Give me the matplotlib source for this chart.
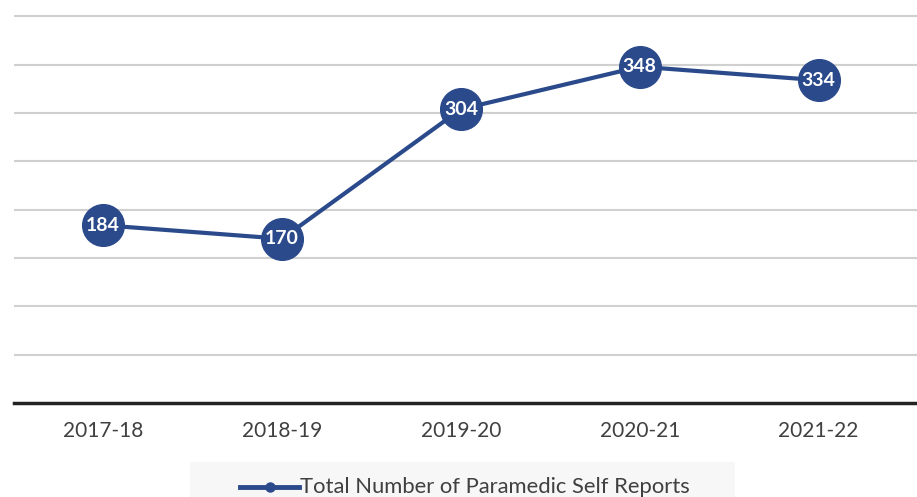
import matplotlib.pyplot as plt
from matplotlib.patches import Rectangle
from matplotlib.lines import Line2D

plt.rcParams['font.family'] = ['Lato', 'DejaVu Sans']

years = ['2017-18', '2018-19', '2019-20', '2020-21', '2021-22']
reports = [184, 170, 304, 348, 334]
grid_levels = [50, 100, 150, 200, 250, 300, 350, 400]

blue = '#2b4a8b'

fig = plt.figure(figsize=(9.17, 4.97), dpi=100)
ax = fig.add_axes([0.015, 0.189, 0.985, 0.811])

x = list(range(len(years)))
ax.plot(x, reports, color=blue, linewidth=3, marker='o', markersize=30,
        markerfacecolor=blue, markeredgecolor=blue, zorder=3)
for xi, v in zip(x, reports):
    ax.text(xi, v, str(v), color='white', fontsize=14, fontweight='bold',
            ha='center', va='center', zorder=4)

for g in grid_levels:
    ax.axhline(g, color='#d0d0d0', linewidth=1.5, zorder=1)

ax.set_xlim(-0.5, len(years) - 0.45)
ax.set_ylim(0, 417)
ax.set_xticks(x)
ax.set_xticklabels(years, fontsize=15, color='#404040')
ax.set_yticks([])
ax.tick_params(axis='x', length=0, pad=13)
for s in ['top', 'right', 'left']:
    ax.spines[s].set_visible(False)
ax.spines['bottom'].set_linewidth(2.5)
ax.spines['bottom'].set_color('#222222')

# legend
fig.patches.append(Rectangle((0.207, 0.0), 0.595, 0.07, transform=fig.transFigure,
                             facecolor='#f7f7f7', edgecolor='none'))
fig.lines.append(Line2D([0.262, 0.326], [0.02, 0.02], transform=fig.transFigure,
                        color=blue, linewidth=3.5))
fig.lines.append(Line2D([0.294], [0.02], transform=fig.transFigure,
                        color=blue, marker='o', markersize=6.5, linestyle='none'))
fig.text(0.327, 0.02, 'Total Number of Paramedic Self Reports', fontsize=15.8,
         color='#404040', ha='left', va='center')

fig.savefig('out.png', dpi=100)
